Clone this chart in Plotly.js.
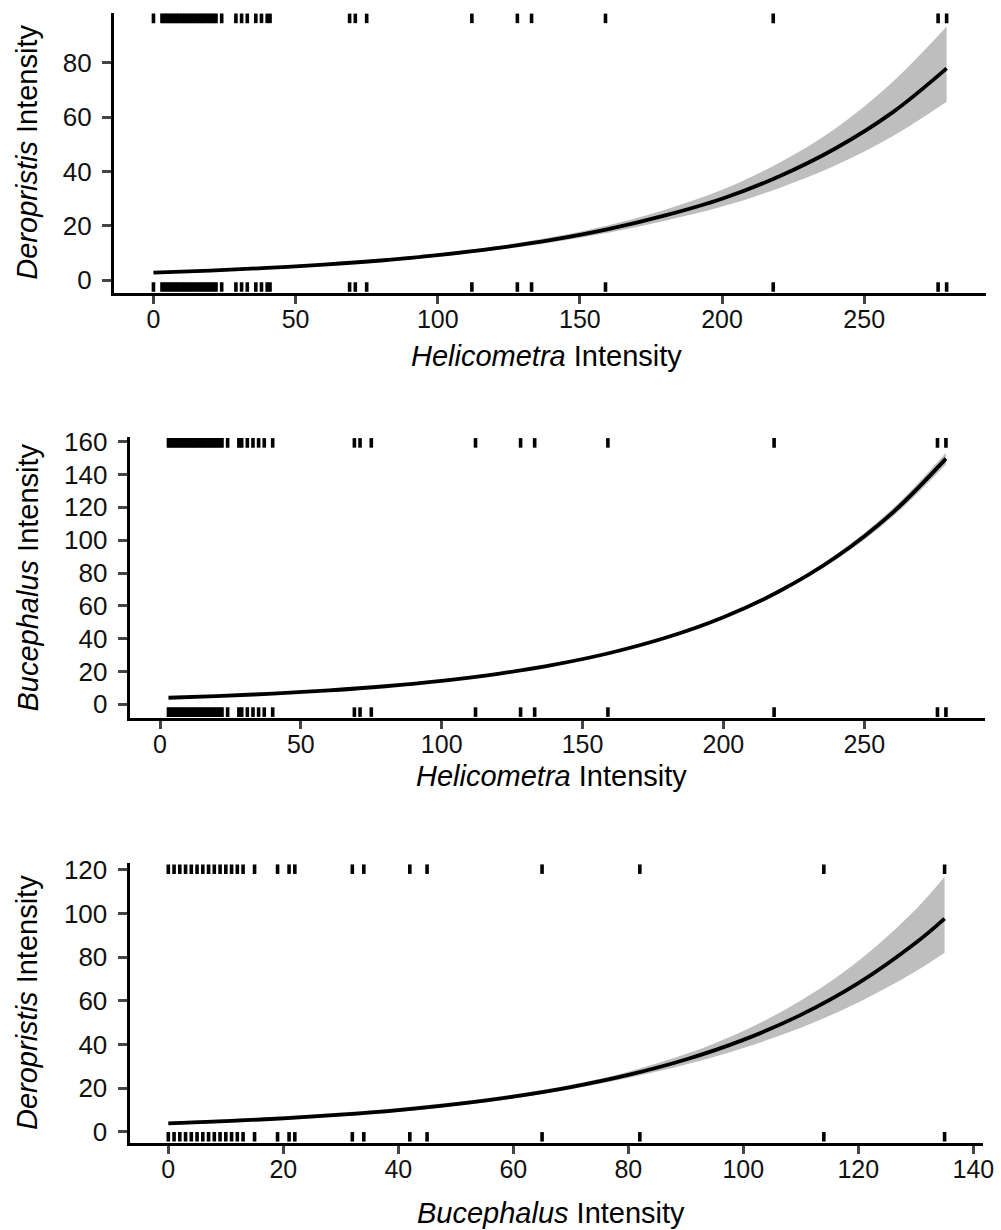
<!DOCTYPE html>
<html>
<head>
<meta charset="utf-8">
<script src="https://cdn.plot.ly/plotly-3.0.1.min.js"></script>
<style>html,body{margin:0;padding:0;background:#fff;}#chart{width:1001px;height:1230px;}</style>
</head>
<body>
<div id="chart"></div>
<script>
// ---- Panel A: Deropristis vs Helicometra ----
const fitA_x  = [0, 20, 40, 60, 80, 100, 120, 140, 160, 180, 200, 220, 240, 260, 279];
const fitA_y  = [2.80, 3.55, 4.51, 5.72, 7.25, 9.20, 11.68, 14.82, 18.80, 23.85, 30.0, 38.2, 48.6, 61.8, 78.0];
const fitA_lo = [2.44, 3.15, 4.07, 5.25, 6.75, 8.64, 11.01, 13.92, 17.49, 21.89, 27.1, 33.9, 42.3, 53.0, 65.7];
const fitA_hi = [3.21, 4.00, 4.99, 6.23, 7.79, 9.79, 12.39, 15.77, 20.20, 25.98, 33.3, 43.2, 56.0, 73.0, 93.4];
const rugA = [0, 3, 4, 5, 6, 7, 8, 9, 10, 11, 12, 13, 14, 15, 16, 17, 18, 19, 20, 21, 22,
              24, 29, 31, 33, 36, 38, 40, 41, 69, 71, 75, 112, 128, 133, 159, 218, 276, 279];

// ---- Panel B: Bucephalus vs Helicometra ----
const fitB_x  = [3, 20, 40, 60, 80, 100, 120, 140, 160, 180, 200, 220, 240, 260, 279];
const fitB_y  = [4.00, 5.01, 6.51, 8.46, 11.00, 14.30, 18.59, 24.17, 31.42, 40.84, 53.10, 69.02, 89.73, 116.66, 149.7];
const fitB_lo = [3.93, 4.93, 6.42, 8.36, 10.89, 14.18, 18.44, 23.97, 31.11, 40.37, 52.37, 67.92, 88.08, 114.22, 146.2];
const fitB_hi = [4.07, 5.09, 6.60, 8.56, 11.11, 14.42, 18.74, 24.38, 31.73, 41.32, 53.84, 70.14, 91.41, 119.16, 153.3];
const rugB = [3, 4, 5, 6, 7, 8, 9, 10, 11, 12, 13, 14, 15, 16, 17, 18, 19, 20, 21, 22,
              24, 28, 29, 31, 33, 35, 37, 40, 69, 71, 75, 112, 128, 133, 159, 218, 276, 279];

// ---- Panel C: Deropristis vs Bucephalus ----
const fitC_x  = [0, 10, 20, 30, 40, 50, 60, 70, 80, 90, 100, 110, 120, 130, 135];
const fitC_y  = [3.80, 4.83, 6.15, 7.82, 9.94, 12.65, 16.09, 20.46, 26.03, 33.10, 42.10, 53.55, 68.10, 86.61, 97.70];
const fitC_lo = [3.15, 4.10, 5.35, 6.97, 9.06, 11.77, 15.21, 19.46, 24.60, 30.80, 38.37, 47.71, 59.25, 73.52, 82.0];
const fitC_hi = [4.59, 5.69, 7.07, 8.78, 10.91, 13.60, 17.02, 21.51, 27.54, 35.58, 46.19, 60.10, 78.28, 102.03, 116.9];
const rugC = [0, 1, 2, 3, 4, 5, 6, 7, 8, 9, 10, 11, 12, 13, 15, 19, 21, 22, 32, 34, 42, 45, 65, 82, 114, 135];

// ---- tick values ----
const xTicksA = [0, 50, 100, 150, 200, 250];
const yTicksA = [0, 20, 40, 60, 80];
const xTicksB = [0, 50, 100, 150, 200, 250];
const yTicksB = [0, 20, 40, 60, 80, 100, 120, 140, 160];
const xTicksC = [0, 20, 40, 60, 80, 100, 120, 140];
const yTicksC = [0, 20, 40, 60, 80, 100, 120];

// ---- titles ----
const titleHel = "<i>Helicometra</i> Intensity";
const titleBuc = "<i>Bucephalus</i> Intensity";
const titleDer = "<i>Deropristis</i> Intensity";

const W = 1001, H = 1230;
const FONT = "Arial, 'Liberation Sans', Helvetica, sans-serif";
const BAND = "rgb(190,190,190)";

function panelTraces(xs, lo, hi, fit, xa, ya) {
  return [
    {x: xs, y: lo, xaxis: xa, yaxis: ya, mode: "lines", line: {width: 0, shape: "spline"},
     hoverinfo: "skip", showlegend: false},
    {x: xs, y: hi, xaxis: xa, yaxis: ya, mode: "lines", line: {width: 0, shape: "spline"},
     fill: "tonexty", fillcolor: BAND, hoverinfo: "skip", showlegend: false},
    {x: xs, y: fit, xaxis: xa, yaxis: ya, mode: "lines", line: {color: "#000", width: 3.8, shape: "spline"},
     showlegend: false}
  ];
}

const data = [].concat(
  panelTraces(fitA_x, fitA_lo, fitA_hi, fitA_y, "x", "y"),
  panelTraces(fitB_x, fitB_lo, fitB_hi, fitB_y, "x2", "y2"),
  panelTraces(fitC_x, fitC_lo, fitC_hi, fitC_y, "x3", "y3")
);

function rugShapes(vals, xref, yref) {
  const out = [];
  vals.forEach(v => {
    out.push({type: "line", xref: xref, yref: yref + " domain", x0: v, x1: v, y0: 0.004, y1: 0.038,
              line: {color: "#000", width: 3.6}});
    out.push({type: "line", xref: xref, yref: yref + " domain", x0: v, x1: v, y0: 0.962, y1: 0.996,
              line: {color: "#000", width: 3.6}});
  });
  return out;
}

function axisX(domain, range, ticks, anchor) {
  return {domain: domain, range: range, anchor: anchor, tickvals: ticks,
          showline: true, linecolor: "#000", linewidth: 3, ticks: "outside", ticklen: 8, tickwidth: 3,
          tickcolor: "#444", ticklabelstandoff: -6,
          tickfont: {family: FONT, size: 25, color: "#111"},
          showgrid: false, zeroline: false, fixedrange: true};
}
function axisY(domain, range, ticks, anchor) {
  return {domain: domain, range: range, anchor: anchor, tickvals: ticks,
          showline: true, linecolor: "#000", linewidth: 3, ticks: "outside", ticklen: 9, tickwidth: 3,
          tickcolor: "#444", ticklabelstandoff: 5,
          tickfont: {family: FONT, size: 26, color: "#111"},
          showgrid: false, zeroline: false, fixedrange: true};
}

function ann(text, px, py, angle) {
  return {text: text, xref: "paper", yref: "paper", x: px / W, y: 1 - py / H,
          xanchor: "center", yanchor: "middle", showarrow: false, textangle: angle || 0,
          font: {family: FONT, size: 29, color: "#000"}};
}

const layout = {
  width: W, height: H,
  margin: {l: 0, r: 0, t: 0, b: 0},
  paper_bgcolor: "#fff", plot_bgcolor: "#fff",
  showlegend: false,
  xaxis:  axisX([113.8 / W, 986.3 / W], [-13.95, 292.95], xTicksA, "y"),
  yaxis:  axisY([1 - 292.9 / H, 1 - 12.5 / H], [-4.69, 98.6], yTicksA, "x"),
  xaxis2: axisX([129.6 / W, 984.8 / W], [-10.8, 292.8], xTicksB, "y2"),
  yaxis2: axisY([1 - 718 / H, 1 - 437 / H], [-8.35, 162.9], yTicksB, "x2"),
  xaxis3: axisX([129.5 / W, 983.4 / W], [-6.75, 141.75], xTicksC, "y3"),
  yaxis3: axisY([1 - 1142.7 / H, 1 - 863.3 / H], [-5.04, 123.06], yTicksC, "x3"),
  shapes: [].concat(rugShapes(rugA, "x", "y"), rugShapes(rugB, "x2", "y2"), rugShapes(rugC, "x3", "y3")),
  annotations: [
    ann(titleHel, 546, 356),
    ann(titleDer, 27, 152.7, -90),
    ann(titleHel, 551, 776),
    ann(titleBuc, 27, 577.5, -90),
    ann(titleBuc, 551, 1213),
    ann(titleDer, 27, 1003, -90)
  ]
};

Plotly.newPlot("chart", data, layout, {displayModeBar: false, staticPlot: true});
</script>
</body>
</html>
